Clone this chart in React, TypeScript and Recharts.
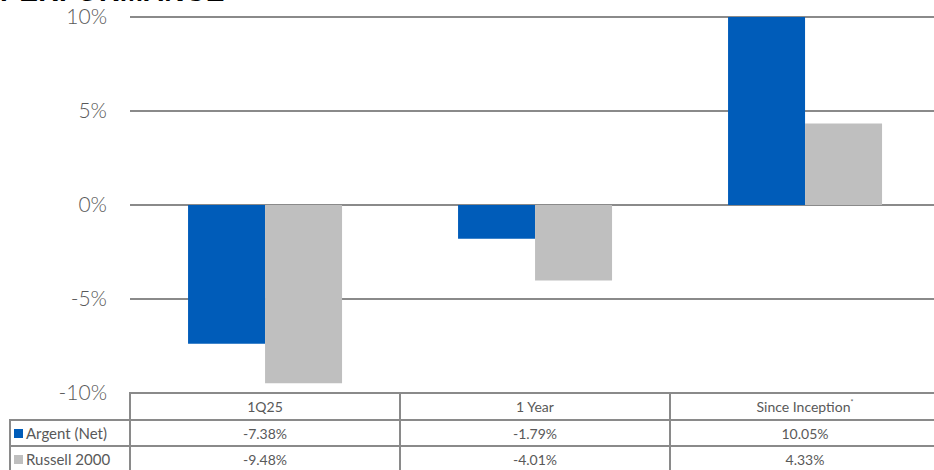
import { Bar, BarChart, CartesianGrid, XAxis, YAxis } from "recharts";

const categories = ["1Q25", "1 Year", "Since Inception*"];
const argentNet = [-7.38, -1.79, 10.05];
const russell2000 = [-9.48, -4.01, 4.33];
const yTicks = [-10, -5, 0, 5, 10];

const BLUE = "#005cb9";
const GRAY = "#bfbfbf";
const LINE = "#8a8a8a";
const TEXT = "#595959";
const FONT = "Lato, 'Open Sans', sans-serif";

const data = categories.map((c, i) => ({
  name: c,
  argent: argentNet[i],
  russell: russell2000[i],
}));

const fmt = (v: number) => `${v.toFixed(2)}%`;

const rows = [
  { label: "Argent (Net)", color: BLUE, values: argentNet },
  { label: "Russell 2000", color: GRAY, values: russell2000 },
];

// table grid edges (px)
const colX = [130, 400, 670, 940];
const labelX = 10;
const rowY = [393, 420, 446, 472];

function hLine(x1: number, x2: number, y: number, key: string) {
  return (
    <div
      key={key}
      style={{ position: "absolute", left: x1, top: y - 1, width: x2 - x1, height: 2, background: LINE }}
    />
  );
}
function vLine(x: number, y1: number, y2: number, key: string) {
  return (
    <div
      key={key}
      style={{ position: "absolute", left: x - 1, top: y1 - 1, width: 2, height: y2 - y1 + 1, background: LINE }}
    />
  );
}

function Cell({ x1, x2, y1, y2, children, align = "center" }: {
  x1: number; x2: number; y1: number; y2: number; children: React.ReactNode; align?: "center" | "left";
}) {
  return (
    <div
      style={{
        position: "absolute",
        left: x1,
        top: y1,
        width: x2 - x1,
        height: y2 - y1,
        display: "flex",
        alignItems: "center",
        justifyContent: align === "center" ? "center" : "flex-start",
        fontSize: 14,
        color: TEXT,
        whiteSpace: "nowrap",
      }}
    >
      {children}
    </div>
  );
}

export default function App(): React.ReactElement {
  const lines: React.ReactNode[] = [];
  lines.push(hLine(colX[0], 940, rowY[0], "h0"));
  lines.push(hLine(labelX, 940, rowY[1], "h1"));
  lines.push(hLine(labelX, 940, rowY[2], "h2"));
  lines.push(vLine(labelX, rowY[1], 470, "vl"));
  colX.slice(0, 3).forEach((x, i) => lines.push(vLine(x, rowY[0], 470, `v${i}`)));

  return (
    <div
      style={{
        position: "fixed",
        left: 0,
        top: 0,
        width: 934,
        height: 470,
        overflow: "hidden",
        background: "#fff",
        fontFamily: FONT,
      }}
    >
      <div
        style={{
          position: "absolute",
          left: 0,
          top: -22,
          fontSize: 28,
          fontWeight: 700,
          color: "#000",
          fontFamily: "'Liberation Sans', Arial, sans-serif",
          lineHeight: "28px",
          letterSpacing: 0.5,
        }}
      >
        PERFORMANCE
      </div>
      <div style={{ position: "absolute", left: 0, top: 0 }}>
        <BarChart
          width={940}
          height={420}
          data={data}
          margin={{ top: 17, right: 0, bottom: 27, left: 0 }}
          barCategoryGap="21.5%"
          barGap={0}
        >
          <CartesianGrid vertical={false} stroke={LINE} strokeWidth={2} />
          <XAxis dataKey="name" hide />
          <YAxis
            domain={[-10, 10]}
            ticks={yTicks}
            interval={0}
            allowDataOverflow
            width={130}
            axisLine={false}
            tickLine={false}
            tickFormatter={(v: number) => `${v}%`}
            tick={{ fill: TEXT, fontSize: 21, fontFamily: FONT, fontWeight: 300 }}
            dx={-15}
          />
          <Bar dataKey="argent" fill={BLUE} isAnimationActive={false} />
          <Bar dataKey="russell" fill={GRAY} isAnimationActive={false} />
        </BarChart>
      </div>
      {categories.map((c, i) => (
        <Cell key={c} x1={colX[i]} x2={colX[i + 1]} y1={rowY[0]} y2={rowY[1]}>
          {c.endsWith("*") ? (
            <>
              {c.slice(0, -1)}
              <sup style={{ fontSize: 7, alignSelf: "flex-start", marginTop: 5 }}>*</sup>
            </>
          ) : (
            c
          )}
        </Cell>
      ))}
      {rows.map((r, ri) => (
        <div key={r.label}>
          <Cell x1={labelX + 4} x2={colX[0]} y1={rowY[ri + 1]} y2={rowY[ri + 2]} align="left">
            <span
              style={{ display: "inline-block", width: 9, height: 9, background: r.color, marginRight: 3 }}
            />
            <span style={{ fontSize: 15 }}>{r.label}</span>
          </Cell>
          {r.values.map((v, i) => (
            <Cell key={i} x1={colX[i]} x2={colX[i + 1]} y1={rowY[ri + 1]} y2={rowY[ri + 2]}>
              {fmt(v)}
            </Cell>
          ))}
        </div>
      ))}
      {lines}
    </div>
  );
}
